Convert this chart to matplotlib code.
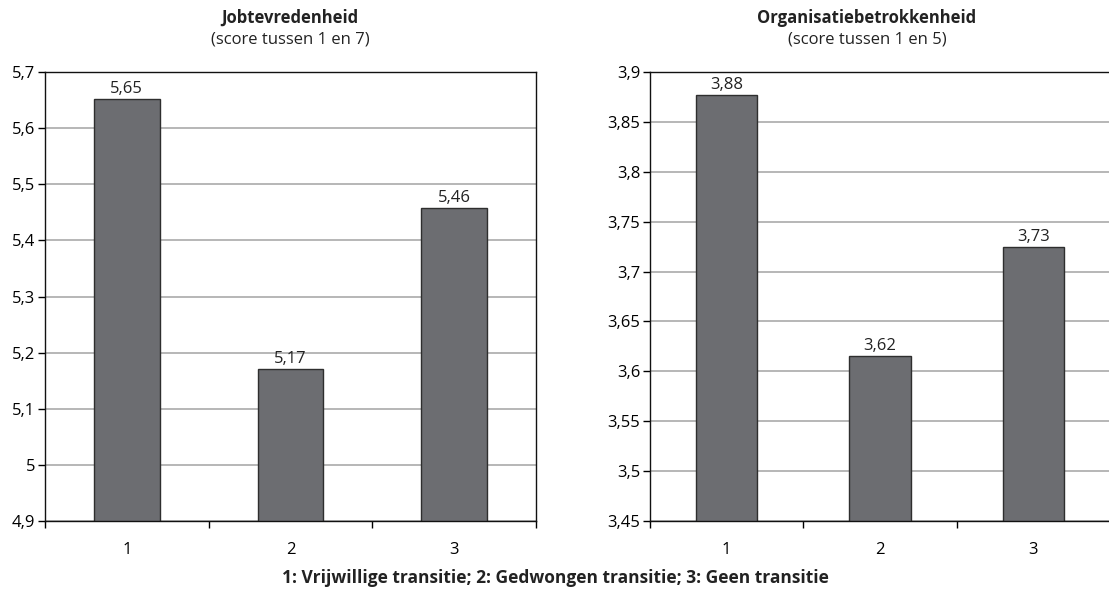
import matplotlib
matplotlib.use("Agg")
import matplotlib.pyplot as plt
from matplotlib.ticker import FixedLocator, FuncFormatter

categories = ["1", "2", "3"]

job_values = [5.652, 5.171, 5.458]
job_labels = ["5,65", "5,17", "5,46"]
job_ticks = [4.9, 5.0, 5.1, 5.2, 5.3, 5.4, 5.5, 5.6, 5.7]

org_values = [3.877, 3.615, 3.725]
org_labels = ["3,88", "3,62", "3,73"]
org_ticks = [3.45, 3.5, 3.55, 3.6, 3.65, 3.7, 3.75, 3.8, 3.85, 3.9]

W, H = 1109, 594
plt.rcParams["font.family"] = ["Open Sans", "DejaVu Sans"]
plt.rcParams["font.size"] = 12

fig = plt.figure(figsize=(W / 100, H / 100), dpi=100)


def comma(v, pos=None):
    return f"{v:g}".replace(".", ",")


def panel(rect, values, labels, yticks, title, subtitle, title_x):
    x0, y0, x1, y1 = rect
    ax = fig.add_axes([x0 / W, 1 - y1 / H, (x1 - x0) / W, (y1 - y0) / H])
    ax.set_axisbelow(True)
    pos = range(1, len(categories) + 1)
    ax.bar(pos, values, width=0.4, color="#6c6d71", edgecolor="#2e2e2e",
           linewidth=1.0, zorder=2)
    for p, v, lab in zip(pos, values, labels):
        ax.annotate(lab, (p, v), xytext=(0, 1.5), textcoords="offset points",
                    ha="center", va="bottom", fontsize=12, color="#222222")
    ax.set_xlim(0.5, len(categories) + 0.5)
    ax.set_ylim(yticks[0], yticks[-1])
    ax.yaxis.set_major_locator(FixedLocator(yticks))
    ax.yaxis.set_major_formatter(FuncFormatter(comma))
    ax.xaxis.set_major_locator(FixedLocator([i + 0.5 for i in range(len(categories) + 1)]))
    ax.xaxis.set_major_formatter(FuncFormatter(lambda v, p: ""))
    ax.xaxis.set_minor_locator(FixedLocator(list(pos)))
    ax.xaxis.set_minor_formatter(FuncFormatter(lambda v, p: categories[int(round(v)) - 1]))
    ax.tick_params(axis="x", which="major", length=5, width=1, direction="out")
    ax.tick_params(axis="x", which="minor", length=0, pad=15, labelsize=12)
    ax.tick_params(axis="y", length=5, width=1, pad=2, labelsize=12)
    ax.grid(axis="y", color="#aaaaaa", linewidth=1.2)
    for s in ax.spines.values():
        s.set_color("#111111")
        s.set_linewidth(1.0)
    fig.text(title_x / W, 1 - 18 / H, title, ha="center", va="center",
             fontsize=12, fontweight="bold", color="#222222")
    fig.text(title_x / W, 1 - 40 / H, subtitle, ha="center", va="center",
             fontsize=12, color="#222222")
    return ax


panel((45, 72, 536, 521), job_values, job_labels, job_ticks,
      "Jobtevredenheid", "(score tussen 1 en 7)", 290)
panel((650, 72, 1110, 521), org_values, org_labels, org_ticks,
      "Organisatiebetrokkenheid", "(score tussen 1 en 5)", 867)

fig.text(555 / W, 1 - 578 / H,
         "1: Vrijwillige transitie; 2: Gedwongen transitie; 3: Geen transitie",
         ha="center", va="center", fontsize=12.5, fontweight="bold", color="#222222")

fig.savefig("out.png", dpi=100)
